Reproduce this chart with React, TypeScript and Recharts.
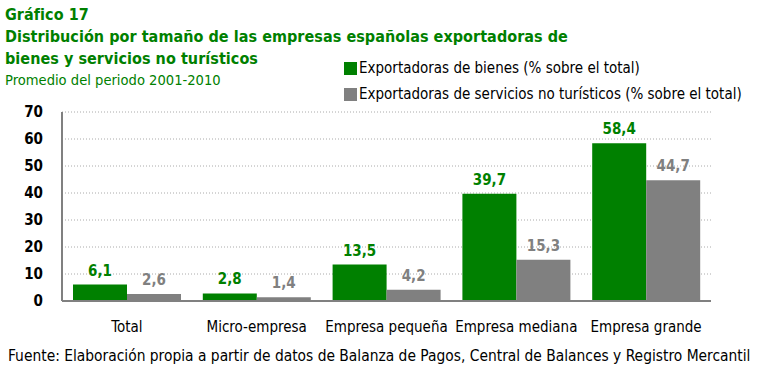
import React from "react";
import { BarChart, Bar, XAxis, YAxis, CartesianGrid, LabelList } from "recharts";

const categories = ["Total", "Micro-empresa", "Empresa pequeña", "Empresa mediana", "Empresa grande"];
const bienes = [6.1, 2.8, 13.5, 39.7, 58.4];
const servicios = [2.6, 1.4, 4.2, 15.3, 44.7];
const yTicks = [0, 10, 20, 30, 40, 50, 60, 70];
const seriesNames = [
  "Exportadoras de bienes (% sobre el total)",
  "Exportadoras de servicios no turísticos (% sobre el total)",
];

const data = categories.map((c, i) => ({ name: c, bienes: bienes[i], servicios: servicios[i] }));

const GREEN = "#008000";
const GRAY = "#808080";

const fmt = (v: any) => String(v).replace(".", ",");

export default function App() {
  return (
    <div className="wrap" style={{ position: "absolute", left: 0, top: 0, width: 771, height: 371, background: "#fff" }}>
      <style>{`.wrap, .wrap text { font-family: 'DejaVu Sans', sans-serif; font-stretch: condensed; }`}</style>
      <BarChart
        width={771}
        height={371}
        data={data}
        margin={{ top: 112, right: 60, bottom: 40, left: 0 }}
        barCategoryGap={11}
        barGap={0}
      >
        <CartesianGrid vertical={false} stroke="#aaa" strokeDasharray="1 2" />
        <XAxis
          dataKey="name"
          height={30}
          tickLine={false}
          axisLine={{ stroke: "#808080", strokeWidth: 2 }}
          tick={{ fill: "#000", fontSize: 15 }}
          tickMargin={14}
          interval={0}
        />
        <YAxis
          width={62}
          domain={[0, 70]}
          ticks={yTicks}
          interval={0}
          tickLine={false}
          tickSize={0}
          tickMargin={19}
          axisLine={{ stroke: "#808080", strokeWidth: 2 }}
          tick={{ fill: "#000", fontSize: 15, fontWeight: "bold" }}
        />
        <Bar dataKey="bienes" fill={GREEN} isAnimationActive={false}>
          <LabelList dataKey="bienes" position="top" offset={9} formatter={fmt} fill={GREEN} fontSize={15} fontWeight="bold" />
        </Bar>
        <Bar dataKey="servicios" fill={GRAY} isAnimationActive={false}>
          <LabelList dataKey="servicios" position="top" offset={9} formatter={fmt} fill={GRAY} fontSize={15} fontWeight="bold" />
        </Bar>
      </BarChart>
      <div style={{ position: "absolute", left: 5, top: 4, color: GREEN, fontWeight: "bold", fontSize: 16, lineHeight: "22px", whiteSpace: "nowrap", letterSpacing: 0.05 }}>
        <div>Gráfico 17</div>
        <div>Distribución por tamaño de las empresas españolas exportadoras de</div>
        <div>bienes y servicios no turísticos</div>
      </div>
      <div style={{ position: "absolute", left: 5, top: 71, color: GREEN, fontSize: 14.6, lineHeight: "18px", whiteSpace: "nowrap" }}>
        Promedio del periodo 2001-2010
      </div>
      {seriesNames.map((n, i) => (
        <div key={n} style={{ position: "absolute", left: 344, top: 58 + i * 26, display: "flex", alignItems: "center", fontSize: 15, lineHeight: "20px", color: "#000", whiteSpace: "nowrap" }}>
          <span style={{ display: "inline-block", width: 13, height: 13, background: i === 0 ? GREEN : GRAY, marginRight: 2 }} />
          {n}
        </div>
      ))}
      <div style={{ position: "absolute", left: 8, top: 346, fontSize: 15.4, lineHeight: "20px", color: "#000", whiteSpace: "nowrap" }}>
        Fuente: Elaboración propia a partir de datos de Balanza de Pagos, Central de Balances y Registro Mercantil
      </div>
    </div>
  );
}
